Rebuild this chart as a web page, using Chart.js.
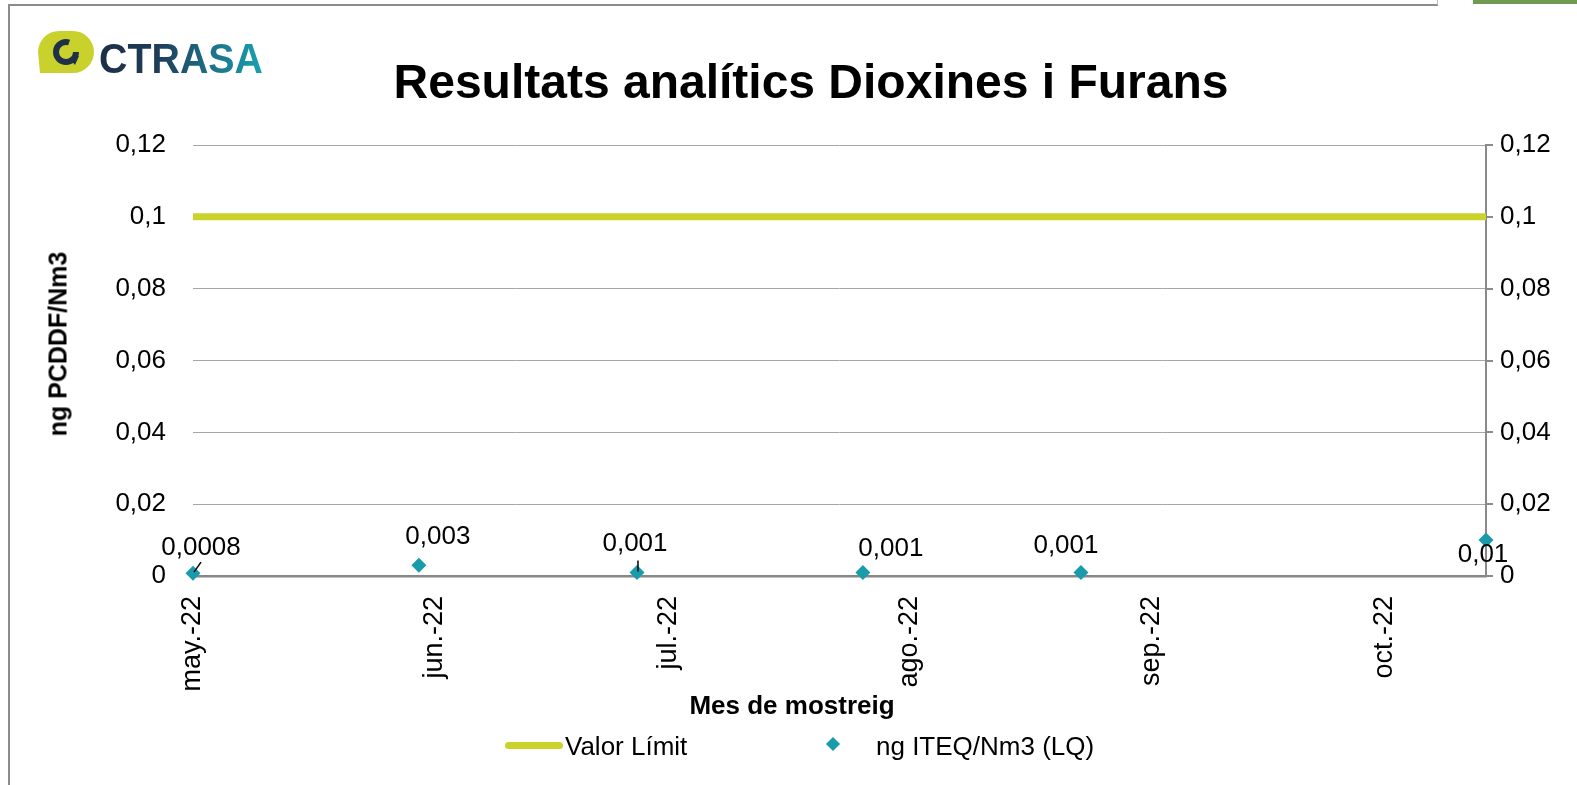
<!DOCTYPE html>
<html lang="ca">
<head>
    <meta charset="UTF-8">
    <title>Resultats analítics Dioxines i Furans</title>
    <style>
        html, body {
            margin: 0;
            padding: 0;
            background: #fff;
        }
        body {
            width: 1577px;
            height: 785px;
            position: relative;
            overflow: hidden;
            font-family: Arial, "Liberation Sans", sans-serif;
            color: #000;
        }
        .frame { position: absolute; }
        #frame-top { left: 8px; top: 4px; width: 1430px; height: 2px; background: #8c8c8c; }
        #frame-left { left: 8px; top: 4px; width: 2px; height: 781px; background: #8c8c8c; }
        #frame-tick { left: 1437px; top: 0; width: 1px; height: 5px; background: #b8b8b8; }
        #frame-green { left: 1473px; top: 0; width: 104px; height: 4px; background: #6f9a4f; }
        #chart-container {
            position: absolute;
            left: 0;
            top: 0;
            width: 1577px;
            height: 785px;
        }
        #logo { position: absolute; left: 38px; top: 31px; }
        #title {
            position: absolute;
            left: 811px;
            top: 58px;
            transform: translateX(-50%);
            font-size: 48px;
            line-height: 48px;
            font-weight: bold;
            white-space: nowrap;
        }
        #y-title {
            position: absolute;
            left: 58px;
            top: 344px;
            transform: translate(-50%, -50%) rotate(-90deg);
            font-size: 25px;
            line-height: 25px;
            font-weight: bold;
            white-space: nowrap;
        }
        #x-title {
            position: absolute;
            left: 792px;
            top: 692px;
            transform: translateX(-50%);
            font-size: 26px;
            line-height: 26px;
            font-weight: bold;
            white-space: nowrap;
        }
        .legend-text {
            position: absolute;
            top: 733px;
            font-size: 26px;
            line-height: 26px;
            white-space: nowrap;
        }
        #legend-line {
            position: absolute;
            left: 505px;
            top: 742px;
            width: 58px;
            height: 7px;
            border-radius: 4px;
            background: #cbd22a;
        }
        #legend-diamond {
            position: absolute;
            left: 828px;
            top: 739px;
            width: 10px;
            height: 10px;
            background: #1a9bab;
            transform: rotate(45deg);
        }
    </style>
</head>
<body>
    <div class="frame" id="frame-top"></div>
    <div class="frame" id="frame-left"></div>
    <div class="frame" id="frame-tick"></div>
    <div class="frame" id="frame-green"></div>

    <div id="chart-container">
        <canvas id="dioxinChart"></canvas>
    </div>

    <svg id="logo" width="230" height="46" viewBox="0 0 230 46">
        <defs>
            <linearGradient id="logoGrad" x1="0" y1="0" x2="1" y2="0">
                <stop offset="0" stop-color="#1d2f47"/>
                <stop offset="0.35" stop-color="#1e3c58"/>
                <stop offset="0.65" stop-color="#1d6a84"/>
                <stop offset="1" stop-color="#17a2b2"/>
            </linearGradient>
        </defs>
        <path d="M 2 42 L 0 21 A 21 21 0 0 1 21 0 L 35 0 A 21 21 0 0 1 56 21 A 21 21 0 0 1 35 42 Z" fill="#c9d22c"/>
        <circle cx="28" cy="21" r="10" fill="none" stroke="#1e3148" stroke-width="6" stroke-dasharray="50 13"/>
        <path d="M 31 27 L 41 25 L 37 34 Z" fill="#1e3148"/>
        <text x="61" y="42" font-family="Arial, 'Liberation Sans', sans-serif" font-size="43" font-weight="bold" fill="url(#logoGrad)" textLength="164" lengthAdjust="spacingAndGlyphs">CTRASA</text>
    </svg>

    <div id="title">Resultats analítics Dioxines i Furans</div>
    <div id="y-title">ng PCDDF/Nm3</div>
    <div id="x-title">Mes de mostreig</div>

    <div id="legend-line"></div>
    <div class="legend-text" style="left:565px;">Valor Límit</div>
    <div id="legend-diamond"></div>
    <div class="legend-text" style="left:876px;">ng ITEQ/Nm3 (LQ)</div>

    <script src="https://cdn.jsdelivr.net/npm/chart.js"></script>
    <script>
        // sample dates and results
        var sampleDates = ['2022-05-03', '2022-06-01', '2022-06-29', '2022-07-28', '2022-08-25', '2022-10-16'];
        var iteqValues = [0.0008, 0.003, 0.001, 0.001, 0.001, 0.01];
        var limitValues = [0.1, 0.1, 0.1, 0.1, 0.1, 0.1];

        // x axis month ticks
        var tickDates = ['2022-05-03', '2022-06-03', '2022-07-03', '2022-08-03', '2022-09-03', '2022-10-03'];
        var tickLabels = ['may.-22', 'jun.-22', 'jul.-22', 'ago.-22', 'sep.-22', 'oct.-22'];

        // where each value label sits relative to its point, and leader lines
        var labelOffsets = [[8, -25], [19, -28], [-2, -29], [28, -24], [-15, -27], [-3, 15]];
        var leaderEnds = [[8, -11], null, [1, -12], null, null, null];

        var FONT = 'Arial, "Liberation Sans", sans-serif';

        function toDay(s) {
            return Date.UTC(+s.slice(0, 4), +s.slice(5, 7) - 1, +s.slice(8, 10)) / 86400000;
        }

        function fmtComma(v) {
            return String(Number(v.toFixed(4))).replace('.', ',');
        }

        var valueLabelPlugin = {
            id: 'valueLabels',
            afterDatasetsDraw: function (chart) {
                var meta = chart.getDatasetMeta(1);
                var c = chart.ctx;
                c.save();
                c.font = '26px ' + FONT;
                c.fillStyle = '#000';
                c.strokeStyle = '#000';
                c.lineWidth = 1.5;
                c.textAlign = 'center';
                c.textBaseline = 'middle';
                meta.data.forEach(function (pt, i) {
                    var off = labelOffsets[i];
                    var lead = leaderEnds[i];
                    if (lead) {
                        c.beginPath();
                        c.moveTo(pt.x + 1, pt.y - 1);
                        c.lineTo(pt.x + lead[0], pt.y + lead[1]);
                        c.stroke();
                    }
                    c.fillText(fmtComma(iteqValues[i]), pt.x + off[0], pt.y + off[1]);
                });
                c.restore();
            }
        };

        var ctx = document.getElementById('dioxinChart').getContext('2d');
        var dioxinChart = new Chart(ctx, {
            type: 'scatter',
            data: {
                datasets: [
                    {
                        label: 'Valor Límit',
                        data: sampleDates.map(function (d, i) { return { x: toDay(d), y: limitValues[i] }; }),
                        showLine: true,
                        borderColor: '#cbd22a',
                        borderWidth: 7,
                        borderCapStyle: 'round',
                        pointRadius: 0,
                        pointHoverRadius: 0,
                        order: 2
                    },
                    {
                        label: 'ng ITEQ/Nm3 (LQ)',
                        data: sampleDates.map(function (d, i) { return { x: toDay(d), y: iteqValues[i] }; }),
                        pointStyle: 'rectRot',
                        pointRadius: 7.5,
                        backgroundColor: '#1a9bab',
                        borderColor: '#1a9bab',
                        borderWidth: 0,
                        clip: false,
                        order: 1
                    }
                ]
            },
            options: {
                responsive: true,
                maintainAspectRatio: false,
                animation: false,
                layout: { padding: { top: 145, left: 0, right: 0, bottom: 0 } },
                plugins: {
                    legend: { display: false },
                    tooltip: { enabled: false },
                    title: { display: false }
                },
                scales: {
                    x: {
                        type: 'linear',
                        position: 'bottom',
                        min: toDay(sampleDates[0]),
                        max: toDay(sampleDates[sampleDates.length - 1]),
                        afterBuildTicks: function (scale) {
                            scale.ticks = tickDates.map(function (d) { return { value: toDay(d) }; });
                        },
                        afterFit: function (scale) { scale.height = 209; },
                        grid: { display: false, drawTicks: false },
                        border: { display: true, color: '#878787', width: 2.5 },
                        ticks: {
                            autoSkip: false,
                            minRotation: 90,
                            maxRotation: 90,
                            padding: 20,
                            color: '#000',
                            font: { family: FONT, size: 27 },
                            callback: function (v, i) { return tickLabels[i]; }
                        }
                    },
                    y: {
                        position: 'left',
                        min: 0,
                        max: 0.12,
                        afterFit: function (scale) { scale.width = 193; },
                        grid: { color: '#a6a6a6', lineWidth: 1, drawTicks: false },
                        border: { display: false },
                        ticks: {
                            stepSize: 0.02,
                            padding: 27,
                            color: '#000',
                            font: { family: FONT, size: 26 },
                            callback: function (v) { return fmtComma(v); }
                        }
                    },
                    y2: {
                        position: 'right',
                        min: 0,
                        max: 0.12,
                        afterFit: function (scale) { scale.width = 91; },
                        grid: { drawOnChartArea: false, drawTicks: true, tickLength: 7, color: '#8a8a8a', lineWidth: 2 },
                        border: { display: true, color: '#8a8a8a', width: 2 },
                        ticks: {
                            stepSize: 0.02,
                            padding: 7,
                            color: '#000',
                            font: { family: FONT, size: 26 },
                            callback: function (v) { return fmtComma(v); }
                        }
                    }
                }
            },
            plugins: [valueLabelPlugin]
        });
    </script>
</body>
</html>
